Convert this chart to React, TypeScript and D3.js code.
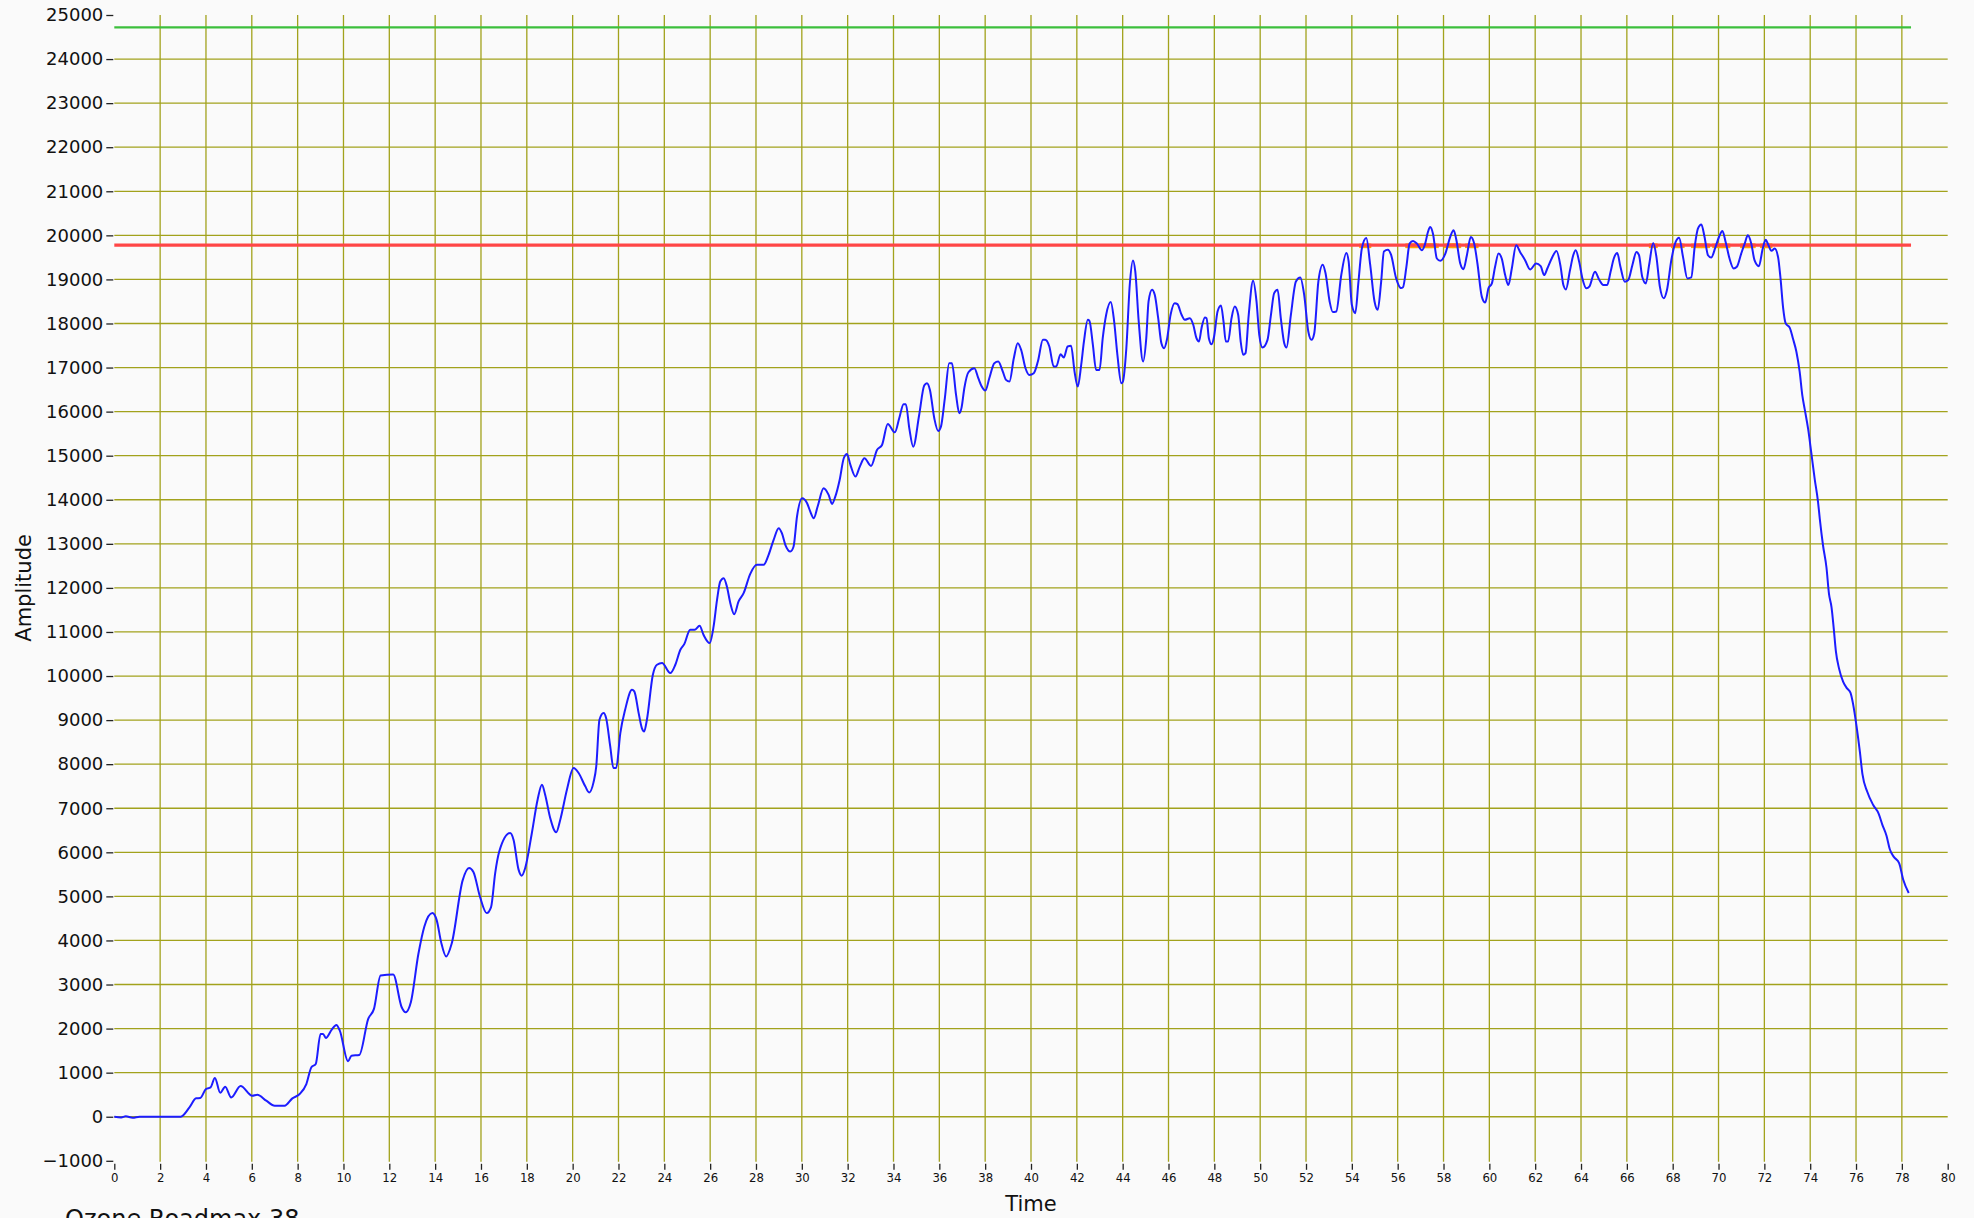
import React, { useEffect, useRef } from 'react';
import * as d3 from 'd3';

const times = [
  0, 0.3, 0.5, 0.8, 1.1, 2.9, 3.28, 3.57, 3.75, 4.0, 4.2, 4.39, 4.62, 4.84, 5.1, 5.51, 6.02, 6.24, 6.63, 7.0,
  7.43, 7.77, 8.09, 8.38, 8.6, 8.79, 9.0, 9.11, 9.23, 9.48, 9.69, 9.84, 10.2, 10.35, 10.69, 11.08, 11.33, 11.62, 12.17, 12.54,
  12.71, 12.94, 13.27, 13.53, 13.88, 14.07, 14.26, 14.48, 14.72, 15.2, 15.48, 15.67, 15.96, 16.25, 16.44, 16.62, 16.8, 17.27, 17.42, 17.64,
  17.78, 17.93, 18.22, 18.47, 18.66, 18.8, 19.02, 19.28, 19.46, 19.75, 20.04, 20.26, 20.55, 20.72, 20.91, 21.03, 21.17, 21.35, 21.46, 21.64,
  21.78, 21.9, 22.08, 22.29, 22.59, 22.69, 22.88, 23.02, 23.12, 23.24, 23.5, 23.68, 23.9, 24.26, 24.48, 24.7, 24.87, 25.13, 25.32, 25.54,
  25.71, 25.98, 26.15, 26.3, 26.44, 26.59, 26.73, 26.88, 27.05, 27.24, 27.46, 27.75, 28.04, 28.33, 28.55, 28.77, 28.99, 29.13, 29.28, 29.5,
  29.64, 29.79, 30.01, 30.23, 30.37, 30.52, 30.69, 30.95, 31.17, 31.32, 31.46, 31.65, 31.83, 31.97, 32.12, 32.34, 32.53, 32.73, 33.02, 33.28,
  33.5, 33.75, 34.06, 34.25, 34.44, 34.54, 34.69, 34.86, 35.12, 35.34, 35.46, 35.59, 35.78, 35.95, 36.07, 36.24, 36.43, 36.55, 36.73, 36.87,
  36.97, 37.09, 37.27, 37.53, 37.7, 37.85, 38.01, 38.18, 38.4, 38.57, 38.77, 38.91, 39.06, 39.25, 39.42, 39.57, 39.76, 39.93, 40.12, 40.3,
  40.52, 40.62, 40.8, 40.99, 41.1, 41.29, 41.43, 41.6, 41.75, 41.9, 42.04, 42.19, 42.31, 42.48, 42.55, 42.7, 42.84, 42.99, 43.13, 43.28,
  43.48, 43.62, 43.77, 43.94, 44.01, 44.16, 44.31, 44.45, 44.55, 44.7, 44.89, 45.03, 45.13, 45.28, 45.4, 45.55, 45.69, 45.81, 45.93, 46.09,
  46.27, 46.39, 46.57, 46.71, 46.93, 47.08, 47.22, 47.33, 47.44, 47.59, 47.66, 47.76, 47.88, 47.99, 48.14, 48.29, 48.4, 48.5, 48.6, 48.75,
  48.89, 49.04, 49.15, 49.26, 49.36, 49.5, 49.69, 49.84, 49.96, 50.1, 50.32, 50.47, 50.61, 50.76, 50.9, 51.05, 51.15, 51.34, 51.56, 51.75,
  51.92, 52.1, 52.24, 52.36, 52.54, 52.73, 52.85, 53.03, 53.17, 53.32, 53.54, 53.76, 53.86, 54.0, 54.15, 54.29, 54.44, 54.63, 54.8, 54.99,
  55.13, 55.28, 55.4, 55.57, 55.71, 55.93, 56.15, 56.23, 56.38, 56.52, 56.67, 56.84, 57.06, 57.2, 57.32, 57.42, 57.54, 57.71, 57.86, 58.08,
  58.29, 58.44, 58.55, 58.73, 58.87, 59.02, 59.19, 59.34, 59.48, 59.67, 59.82, 59.96, 60.11, 60.25, 60.4, 60.54, 60.69, 60.83, 60.98, 61.17,
  61.34, 61.56, 61.78, 62.04, 62.24, 62.39, 62.53, 62.72, 62.93, 63.11, 63.23, 63.34, 63.52, 63.66, 63.77, 63.92, 64.06, 64.24, 64.36, 64.61,
  64.8, 64.97, 65.14, 65.29, 65.43, 65.58, 65.72, 65.91, 66.06, 66.24, 66.42, 66.53, 66.67, 66.83, 66.97, 67.15, 67.29, 67.44, 67.61, 67.75,
  67.94, 68.13, 68.28, 68.45, 68.64, 68.81, 68.96, 69.1, 69.25, 69.39, 69.54, 69.68, 69.87, 70.02, 70.17, 70.31, 70.48, 70.66, 70.8, 70.99,
  71.14, 71.28, 71.43, 71.57, 71.76, 71.93, 72.06, 72.16, 72.31, 72.45, 72.6, 72.7, 72.82, 72.93, 73.11, 73.25, 73.4, 73.54, 73.66, 73.76,
  73.91, 74.05, 74.2, 74.34, 74.42, 74.56, 74.71, 74.82, 74.93, 75.03, 75.12, 75.26, 75.44, 75.61, 75.76, 75.87, 76.02, 76.17, 76.28, 76.49,
  76.75, 76.99, 77.15, 77.33, 77.47, 77.65, 77.88, 78.06, 78.3,
];

const amplitudes = [
  0, -15, 10, -25, 0, 0, 212, 417, 424, 629, 667, 879, 545, 682, 439, 697, 477, 500, 364, 250,
  250, 417, 515, 742, 1121, 1197, 1879, 1879, 1788, 1970, 2083, 1955, 1258, 1386, 1402, 2220, 2447, 3205, 3227, 2485,
  2371, 2598, 3697, 4318, 4621, 4455, 3962, 3636, 3924, 5364, 5644, 5553, 4985, 4621, 4758, 5530, 6023, 6438, 6287, 5607,
  5471, 5645, 6438, 7194, 7535, 7308, 6779, 6453, 6741, 7421, 7912, 7799, 7497, 7360, 7587, 7950, 9008, 9159, 9046, 8403,
  7912, 7912, 8706, 9235, 9689, 9651, 9159, 8819, 8743, 9008, 10029, 10256, 10294, 10067, 10256, 10596, 10724, 11050, 11050, 11140,
  10936, 10747, 11125, 11730, 12145, 12221, 12032, 11654, 11404, 11692, 11881, 12319, 12523, 12523, 12750, 13090, 13355, 13241, 12977, 12825,
  12939, 13620, 14035, 13922, 13732, 13581, 13846, 14262, 14110, 13906, 14072, 14450, 14942, 15040, 14791, 14526, 14753, 14942, 14768, 15131,
  15244, 15720, 15530, 15848, 16167, 16167, 15621, 15205, 15924, 16591, 16644, 16492, 15848, 15561, 15659, 16303, 17098, 17098, 16379, 15962,
  16091, 16530, 16894, 16985, 16758, 16568, 16477, 16758, 17098, 17136, 16909, 16720, 16682, 17212, 17553, 17402, 16985, 16833, 16871, 17136,
  17629, 17629, 17477, 17023, 17023, 17303, 17227, 17477, 17492, 16909, 16568, 17061, 17591, 18083, 18061, 17515, 16947, 16947, 17667, 18197,
  18485, 18083, 17288, 16644, 16682, 17439, 18879, 19432, 19182, 18045, 17136, 17667, 18500, 18765, 18652, 18121, 17553, 17439, 17629, 18197,
  18462, 18439, 18197, 18083, 18121, 17970, 17667, 17591, 17894, 18136, 18121, 17667, 17530, 17705, 18273, 18409, 18045, 17591, 17591, 18121,
  18386, 18197, 17591, 17288, 17326, 18197, 18970, 18500, 17742, 17455, 17629, 18197, 18689, 18765, 18121, 17553, 17455, 18197, 18955, 19045,
  18652, 17818, 17629, 17780, 18955, 19333, 19144, 18500, 18258, 18273, 19106, 19598, 19409, 18424, 18235, 18955, 19712, 19939, 19333, 18500,
  18311, 18955, 19636, 19674, 19561, 19030, 18803, 18820, 19286, 19812, 19872, 19812, 19662, 19812, 20075, 20188, 20038, 19474, 19421, 19586,
  19962, 20113, 19925, 19361, 19233, 19549, 19962, 19812, 19361, 18609, 18474, 18797, 18910, 19286, 19586, 19474, 19098, 18872, 19248, 19774,
  19624, 19436, 19226, 19361, 19301, 19098, 19248, 19474, 19647, 19286, 18872, 18774, 19210, 19549, 19662, 19398, 19023, 18797, 18835, 19173,
  18985, 18872, 18872, 19173, 19474, 19602, 19286, 18947, 18985, 19323, 19624, 19549, 19060, 18910, 19323, 19827, 19511, 18835, 18571, 18760,
  19436, 19850, 19947, 19511, 19023, 19045, 19737, 20150, 20248, 19962, 19549, 19496, 19737, 19962, 20098, 19850, 19474, 19248, 19286, 19586,
  19812, 20000, 19812, 19436, 19301, 19700, 19898, 19798, 19649, 19699, 19499, 19050, 18351, 18002, 17902, 17653, 17353, 16906, 16355, 16056,
  15607, 15058, 14459, 13960, 13561, 12962, 12463, 11864, 11565, 11066, 10567, 10168, 9868, 9719, 9619, 9369, 8870, 8271, 7772, 7373,
  7073, 6874, 6624, 6375, 6075, 5896, 5756, 5377, 5077,
];

const upperLimit = 24720; // green
const alarmLimit = 19780; // red

const xTicks = d3.range(0, 81, 2);
const yTicks = d3.range(-1000, 25001, 1000);
const xGrid = d3.range(2, 79, 2);
const yGrid = d3.range(0, 24001, 1000);

const App: React.FC = () => {
  const svgRef = useRef<SVGSVGElement>(null);

  useEffect(() => {
    if (!svgRef.current) return;

    const width = 1974;
    const height = 1218;
    const left = 114.3;
    const right = 1947.7;
    const top = 15;
    const bottom = 1160.8;

    const svg = d3.select(svgRef.current);
    svg.selectAll('*').remove();
    svg.attr('width', width).attr('height', height);

    svg.append('rect').attr('width', width).attr('height', height).attr('fill', '#fafafa');

    const x = d3.scaleLinear().domain([0, 80]).range([left, right]);
    const y = d3.scaleLinear().domain([-1000, 25000]).range([bottom, top]);

    // grid
    const grid = svg.append('g').attr('stroke', '#a2a21c').attr('stroke-width', 1.3);
    grid.selectAll('line.h')
      .data(yGrid)
      .join('line')
      .attr('x1', left)
      .attr('x2', right)
      .attr('y1', d => y(d))
      .attr('y2', d => y(d));
    grid.selectAll('line.v')
      .data(xGrid)
      .join('line')
      .attr('class', 'v')
      .attr('x1', d => x(d))
      .attr('x2', d => x(d))
      .attr('y1', top)
      .attr('y2', bottom + 1);

    // y axis
    const yAxis = svg.append('g')
      .attr('transform', `translate(${left - 1},0)`)
      .call(d3.axisLeft(y).tickValues(yTicks).tickSize(7).tickPadding(3).tickFormat(d3.format('d')));
    yAxis.select('.domain').remove();
    yAxis.selectAll('line').attr('stroke', '#222').attr('stroke-width', 1.3);
    yAxis.selectAll('text')
      .attr('fill', '#111')
      .attr('font-size', 18)
      .attr('font-family', 'DejaVu Sans, sans-serif');

    // x axis
    const xAxis = svg.append('g')
      .attr('transform', `translate(0,${bottom + 3})`)
      .call(d3.axisBottom(x).tickValues(xTicks).tickSize(6).tickPadding(3).tickFormat(d3.format('d')));
    xAxis.select('.domain').remove();
    xAxis.selectAll('line').attr('stroke', '#222').attr('stroke-width', 1.3);
    xAxis.selectAll('text')
      .attr('fill', '#111')
      .attr('font-size', 13)
      .attr('font-family', 'DejaVu Sans Condensed, DejaVu Sans, sans-serif');

    const tEnd = times[times.length - 1] + 0.1;

    // orange highlight where the trace exceeds the alarm limit
    const over: [number, number][] = [];
    for (let i = 1; i < times.length; i++) {
      const a = amplitudes[i - 1] - alarmLimit;
      const b = amplitudes[i] - alarmLimit;
      if (a > 0 || b > 0) {
        const t0 = a > 0 ? times[i - 1] : times[i - 1] + (times[i] - times[i - 1]) * (-a / (b - a));
        const t1 = b > 0 ? times[i] : times[i - 1] + (times[i] - times[i - 1]) * (a / (a - b));
        over.push([t0, t1]);
      }
    }
    svg.append('g')
      .selectAll('line')
      .data(over)
      .join('line')
      .attr('x1', d => x(d[0]) - 4)
      .attr('x2', d => x(d[1]) + 4)
      .attr('y1', y(alarmLimit) + 0.8)
      .attr('y2', y(alarmLimit) + 0.8)
      .attr('stroke', '#ffa500')
      .attr('stroke-width', 4.5);

    // limit lines
    svg.append('line')
      .attr('x1', x(0)).attr('x2', x(tEnd))
      .attr('y1', y(upperLimit)).attr('y2', y(upperLimit))
      .attr('stroke', '#3cbf3c').attr('stroke-width', 2.2);
    svg.append('line')
      .attr('x1', x(0)).attr('x2', x(tEnd))
      .attr('y1', y(alarmLimit)).attr('y2', y(alarmLimit))
      .attr('stroke', '#ff4646').attr('stroke-width', 3.2);

    // trace
    const line = d3.line<number>()
      .x((_, i) => x(times[i]))
      .y(d => y(d))
      .curve(d3.curveMonotoneX);
    svg.append('path')
      .datum(amplitudes)
      .attr('d', line)
      .attr('fill', 'none')
      .attr('stroke', '#1c1cff')
      .attr('stroke-width', 2);

    // labels
    svg.append('text')
      .attr('transform', `translate(31,${(top + bottom) / 2}) rotate(-90)`)
      .attr('text-anchor', 'middle')
      .attr('font-size', 21)
      .attr('font-family', 'DejaVu Sans, sans-serif')
      .attr('fill', '#111')
      .text('Amplitude');

    svg.append('text')
      .attr('x', (left + right) / 2)
      .attr('y', 1211)
      .attr('text-anchor', 'middle')
      .attr('font-size', 21)
      .attr('font-family', 'DejaVu Sans, sans-serif')
      .attr('fill', '#111')
      .text('Time');

    svg.append('text')
      .attr('x', 65)
      .attr('y', 1227)
      .attr('font-size', 24)
      .attr('font-family', 'DejaVu Sans, sans-serif')
      .attr('fill', '#111')
      .text('Ozone Roadmax 38');
  }, []);

  return (
    <div style={{ position: 'absolute', left: 0, top: 0 }}>
      <svg ref={svgRef} style={{ display: 'block' }} />
    </div>
  );
};

export default App;
